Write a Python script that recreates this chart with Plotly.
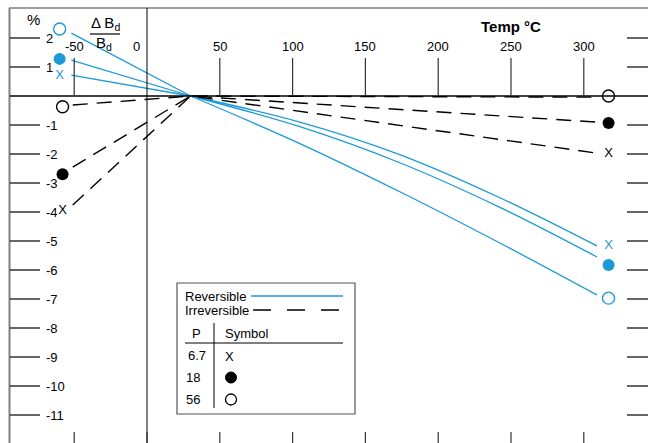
import plotly.graph_objects as go

# ---------------- data ----------------
# Reversible change, blue solid curves (percent of Bd)
rev_T_left = [-52, 30]
rev_left_67 = [0.72, 0.0]
rev_left_18 = [1.24, 0.0]
rev_left_56 = [2.17, 0.0]

rev_T_right = [30, 105, 174, 242, 309]
rev_right_67 = [0.0, -0.90, -2.03, -3.50, -5.17]
rev_right_18 = [0.0, -1.06, -2.31, -3.83, -5.55]
rev_right_56 = [0.0, -1.64, -3.31, -5.06, -6.86]

# Irreversible change, black dashed lines
irr_T = [-51, 30, 309]
irr_67 = [-3.76, 0.0, -1.97]
irr_18 = [-2.45, 0.0, -0.90]
irr_56 = [-0.31, 0.0, -0.04]

# symbol positions next to the curve ends
rev_mark_T = [-60, 317]
irr_mark_T = [-58, 317]
rev_mark_67 = [0.69, -5.17]
rev_mark_18 = [1.28, -5.83]
rev_mark_56 = [2.31, -6.97]
irr_mark_67 = [-3.97, -2.00]
irr_mark_18 = [-2.70, -0.93]
irr_mark_56 = [-0.37, 0.00]

# axes
x_ticks = [-50, 50, 100, 150, 200, 250, 300]
x_tick_labels = ["-50", "50", "100", "150", "200", "250", "300"]
bottom_ticks = [-50, 0, 50, 100, 150, 200, 250, 300]
y_ticks = [2, 1, -1, -2, -3, -4, -5, -6, -7, -8, -9, -10, -11]
y_tick_labels = [str(v) for v in y_ticks]

legend_P = ["6.7", "18", "56"]

# ---------------- style ----------------
W, H = 648, 443
BLUE = "#1b9ad6"
FONT = "Liberation Sans, Arial, sans-serif"
GRAY = "#808080"


def px(x):
    return x / W


def py(y):
    return 1 - y / H


fig = go.Figure()

# reversible curves
for yl, yr in [(rev_left_67, rev_right_67), (rev_left_18, rev_right_18), (rev_left_56, rev_right_56)]:
    fig.add_trace(go.Scatter(x=rev_T_left, y=yl, mode="lines",
                             line=dict(color=BLUE, width=1.3), hoverinfo="skip"))
    fig.add_trace(go.Scatter(x=rev_T_right, y=yr, mode="lines",
                             line=dict(color=BLUE, width=1.3, shape="spline", smoothing=1.0),
                             hoverinfo="skip"))

# irreversible lines
for yv in [irr_67, irr_18, irr_56]:
    fig.add_trace(go.Scatter(x=irr_T, y=yv, mode="lines",
                             line=dict(color="black", width=1.4, dash="15px,9px"),
                             hoverinfo="skip"))


def add_markers(color, mt, m67, m18, m56):
    # X drawn as a text glyph
    fig.add_trace(go.Scatter(x=mt, y=m67, mode="text", text=["X", "X"],
                             textfont=dict(family=FONT, size=13, color=color),
                             hoverinfo="skip"))
    fig.add_trace(go.Scatter(x=mt, y=m18, mode="markers",
                             marker=dict(symbol="circle", size=12, color=color,
                                         line=dict(width=0)),
                             hoverinfo="skip"))
    fig.add_trace(go.Scatter(x=mt, y=m56, mode="markers",
                             marker=dict(symbol="circle", size=12, color="white",
                                         line=dict(color=color, width=1.4)),
                             hoverinfo="skip"))


add_markers(BLUE, rev_mark_T, rev_mark_67, rev_mark_18, rev_mark_56)
add_markers("black", irr_mark_T, irr_mark_67, irr_mark_18, irr_mark_56)

shapes = []
ann = []

# frame (left and top gray borders)
shapes.append(dict(type="line", xref="paper", yref="paper", x0=px(9.5), x1=px(9.5),
                   y0=0, y1=py(8), line=dict(color=GRAY, width=2)))
shapes.append(dict(type="line", xref="paper", yref="paper", x0=px(9), x1=1,
                   y0=py(8), y1=py(8), line=dict(color=GRAY, width=1.5)))
# zero line
shapes.append(dict(type="line", xref="paper", yref="y", x0=px(10), x1=1,
                   y0=0, y1=0, line=dict(color="black", width=1.5)))
# T = 0 vertical line
shapes.append(dict(type="line", xref="x", yref="paper", x0=0, x1=0,
                   y0=0, y1=py(8), line=dict(color="black", width=1)))

# top ticks + labels
for t, lab in zip(x_ticks, x_tick_labels):
    shapes.append(dict(type="line", xref="x", yref="y", x0=t, x1=t, y0=0, y1=1.31,
                       line=dict(color="#333333", width=1.2)))
    ann.append(dict(x=t, y=1.69, xref="x", yref="y", text=lab, showarrow=False,
                    font=dict(family=FONT, size=13, color="black"),
                    xanchor="center", yanchor="middle"))
ann.append(dict(x=0, y=1.69, xref="x", yref="y", text="0", showarrow=False,
                xshift=-11, font=dict(family=FONT, size=13, color="black"),
                xanchor="center", yanchor="middle"))

# bottom ticks
for t in bottom_ticks:
    shapes.append(dict(type="line", xref="x", yref="paper", x0=t, x1=t, y0=0, y1=11 / H,
                       line=dict(color="#333333", width=1.2)))

# left and right ticks
for v, lab in zip(y_ticks, y_tick_labels):
    shapes.append(dict(type="line", xref="paper", yref="y", x0=px(10), x1=px(40), y0=v, y1=v,
                       line=dict(color="black", width=1.2)))
    shapes.append(dict(type="line", xref="paper", yref="y", x0=px(627), x1=1, y0=v, y1=v,
                       line=dict(color="black", width=1.2)))
    ann.append(dict(x=px(44), y=v, xref="paper", yref="y", text=lab, showarrow=False,
                    font=dict(family=FONT, size=13, color="black"),
                    xanchor="left", yanchor="middle"))

# axis titles
ann.append(dict(x=px(33), y=py(20), xref="paper", yref="paper", text="%", showarrow=False,
                font=dict(family=FONT, size=15, color="black"), xanchor="center", yanchor="middle"))
ann.append(dict(x=px(105), y=py(24), xref="paper", yref="paper",
                text="\u0394 B<sub>d</sub>", showarrow=False,
                font=dict(family=FONT, size=15, color="black"), xanchor="center", yanchor="middle"))
shapes.append(dict(type="line", xref="paper", yref="paper", x0=px(90), x1=px(120),
                   y0=py(34), y1=py(34), line=dict(color="black", width=1.2)))
ann.append(dict(x=px(104), y=py(44), xref="paper", yref="paper",
                text="B<sub>d</sub>", showarrow=False,
                font=dict(family=FONT, size=15, color="black"), xanchor="center", yanchor="middle"))
ann.append(dict(x=px(511), y=py(26), xref="paper", yref="paper",
                text="<b>Temp \u00b0C</b>", showarrow=False,
                font=dict(family=FONT, size=15, color="black"), xanchor="center", yanchor="middle"))

# legend box
shapes.append(dict(type="rect", xref="paper", yref="paper", x0=px(177), x1=px(355),
                   y0=py(414), y1=py(283), line=dict(color="#555555", width=1.2),
                   fillcolor="white", layer="above"))
ann.append(dict(x=px(183), y=py(296), xref="paper", yref="paper", text="Reversible",
                showarrow=False, font=dict(family=FONT, size=13, color="black"),
                xanchor="left", yanchor="middle"))
shapes.append(dict(type="line", xref="paper", yref="paper", x0=px(251), x1=px(343),
                   y0=py(296), y1=py(296), line=dict(color=BLUE, width=1.3), layer="above"))
ann.append(dict(x=px(183), y=py(310), xref="paper", yref="paper", text="Irreversible",
                showarrow=False, font=dict(family=FONT, size=13, color="black"),
                xanchor="left", yanchor="middle"))
shapes.append(dict(type="line", xref="paper", yref="paper", x0=px(253), x1=px(343),
                   y0=py(310), y1=py(310), line=dict(color="black", width=1.4, dash="18px,16px"),
                   layer="above"))
ann.append(dict(x=px(196), y=py(333), xref="paper", yref="paper", text="P",
                showarrow=False, font=dict(family=FONT, size=13, color="black"),
                xanchor="center", yanchor="middle"))
ann.append(dict(x=px(223), y=py(333), xref="paper", yref="paper", text="Symbol",
                showarrow=False, font=dict(family=FONT, size=13, color="black"),
                xanchor="left", yanchor="middle"))
shapes.append(dict(type="line", xref="paper", yref="paper", x0=px(185), x1=px(343),
                   y0=py(343), y1=py(343), line=dict(color="black", width=1), layer="above"))
shapes.append(dict(type="line", xref="paper", yref="paper", x0=px(214), x1=px(214),
                   y0=py(408), y1=py(323), line=dict(color="black", width=1), layer="above"))
row_y = [355, 377, 399]
row_x = [208, 184, 184]
row_anchor = ["right", "left", "left"]
for p, ry, rx, ra in zip(legend_P, row_y, row_x, row_anchor):
    ann.append(dict(x=px(rx), y=py(ry), xref="paper", yref="paper", text=p,
                    showarrow=False, font=dict(family=FONT, size=13, color="black"),
                    xanchor=ra, yanchor="middle"))
ann.append(dict(x=px(229), y=py(356), xref="paper", yref="paper", text="X",
                showarrow=False, font=dict(family=FONT, size=13, color="black"),
                xanchor="center", yanchor="middle"))
shapes.append(dict(type="circle", xref="paper", yref="paper", x0=px(225.5), x1=px(236.5),
                   y0=py(383), y1=py(372), fillcolor="black", line=dict(color="black", width=1),
                   layer="above"))
shapes.append(dict(type="circle", xref="paper", yref="paper", x0=px(225.5), x1=px(236.5),
                   y0=py(405), y1=py(394), fillcolor="white", line=dict(color="black", width=1.3),
                   layer="above"))

fig.update_layout(
    width=W, height=H,
    margin=dict(l=0, r=0, t=0, b=0),
    paper_bgcolor="white", plot_bgcolor="white",
    showlegend=False,
    xaxis=dict(range=[(0 - 147) / 1.456, (W - 147) / 1.456], visible=False, fixedrange=True),
    yaxis=dict(range=[(96 - H) / 29, 96 / 29], visible=False, fixedrange=True),
    shapes=shapes,
    annotations=ann,
)

fig.write_html("out.html", config={"displayModeBar": False})
